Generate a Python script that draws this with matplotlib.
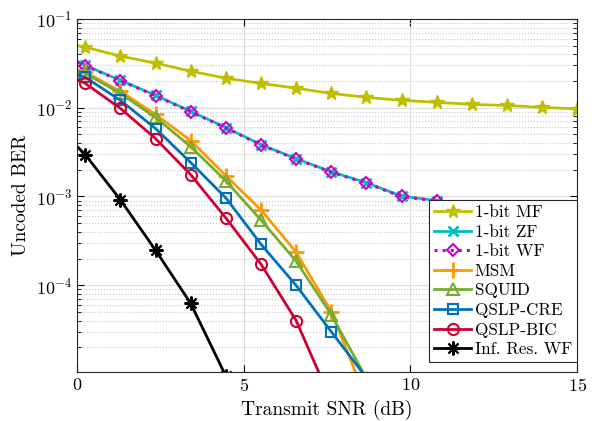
import numpy as np
from matplotlib import pyplot as plt
from matplotlib.ticker import LogLocator, NullFormatter

plt.rcParams['font.family'] = 'serif'
plt.rcParams['font.serif'] = ['cmr10']
plt.rcParams['mathtext.fontset'] = 'cm'
plt.rcParams['axes.formatter.use_mathtext'] = True

# SNR grid: first point at 0 dB (no marker), then the marked points
snr = [0.0] + list(np.round(np.linspace(0.25, 15, 15), 3))

mf = [0.0499, 0.0482, 0.0381, 0.0318, 0.0258, 0.0215, 0.0188, 0.0166, 0.0145,
      0.0131, 0.0121, 0.0115, 0.0109, 0.0106, 0.0101, 0.0097]
zf = [0.0334, 0.0299, 0.0204, 0.0138, 0.0091, 0.00598, 0.00384, 0.00267, 0.00190,
      0.00143, 0.00101, 0.00090, 0.00074, 0.00061, 0.00050, 0.00042]
wf = [0.0330, 0.0296, 0.0202, 0.0136, 0.0090, 0.00592, 0.00380, 0.00264, 0.00188,
      0.00141, 0.00100, 0.00089, 0.00073, 0.00060, 0.00050, 0.00041]
msm = [0.0272, 0.0251, 0.0153, 0.0084, 0.00426, 0.00171, 0.000705, 0.000236,
       5.06e-5, 5.2e-6]
squid = [0.0262, 0.0244, 0.0145, 0.00776, 0.00364, 0.00150, 0.000543, 0.000187,
         4.68e-5, 8.9e-6]
cre = [0.0235, 0.0220, 0.0121, 0.00583, 0.00241, 0.000964, 0.000290, 9.97e-5,
       3.0e-5, 9.1e-6]
bic = [0.0209, 0.0188, 0.00982, 0.00449, 0.00176, 0.000573, 0.000173, 4.01e-5,
       5.0e-6]
inf_wf = [0.00367, 0.00296, 0.000915, 0.000248, 6.24e-5, 9.5e-6]

series = [
    ("1-bit MF", mf, dict(color="#BFBF00", marker="*", ms=10, ls="-")),
    ("1-bit ZF", zf, dict(color="#00BFBF", marker="x", ms=7, mew=2, ls="-")),
    ("1-bit WF", wf, dict(color="#CC00CC", marker="D", ms=6, mfc="none", mew=1.5, ls=":")),
    ("MSM", msm, dict(color="#FF9900", marker="+", ms=11, mew=2, ls="-")),
    ("SQUID", squid, dict(color="#77AC30", marker="^", ms=8, mfc="none", mew=1.5, ls="-")),
    ("QSLP-CRE", cre, dict(color="#0072BD", marker="s", ms=7, mfc="none", mew=1.5, ls="-")),
    ("QSLP-BIC", bic, dict(color="#CC0033", marker="o", ms=8, mfc="none", mew=1.5, ls="-")),
    ("Inf. Res. WF", inf_wf, dict(color="black", marker=(8, 2, 0), ms=10, mew=1.5, ls="-")),
]

fig = plt.figure(figsize=(5.92, 4.21), dpi=100)
ax = fig.add_axes([0.130, 0.116, 0.845, 0.839])

for name, vals, style in series:
    lw = 2.2 if style["ls"] == ":" else 2
    ax.semilogy(snr[:len(vals)], vals, label=name, lw=lw, markevery=slice(1, None), **style)

ax.set_xlim(0, 15)
ax.set_ylim(1.05e-5, 1e-1)
ax.set_xticks([0, 5, 10, 15])
ax.yaxis.set_major_locator(LogLocator(base=10, numticks=10))
ax.yaxis.set_minor_locator(LogLocator(base=10, subs=np.arange(2, 10), numticks=10))
ax.yaxis.set_minor_formatter(NullFormatter())
ax.grid(True, which="major", color="#DDDDDD", lw=0.8)
ax.grid(True, which="minor", axis="y", color="#C8C8C8", ls=":", lw=0.8)
ax.set_axisbelow(True)
ax.tick_params(which="both", direction="in", top=True, right=True, labelsize=13)
ax.tick_params(which="major", length=5)
ax.tick_params(which="minor", length=3)
for s in ax.spines.values():
    s.set_color("#262626")

ax.set_xlabel("Transmit SNR (dB)", fontsize=14)
ax.set_ylabel("Uncoded BER", fontsize=14)

leg = ax.legend(loc="lower right", bbox_to_anchor=(1.0, 0.028), borderaxespad=0,
                fontsize=12.3, handlelength=2.2, handletextpad=0.2, borderpad=0.3,
                labelspacing=0.25, fancybox=False, framealpha=1, edgecolor="#262626")
leg.get_frame().set_linewidth(0.8)

plt.savefig("out.png", dpi=100)
